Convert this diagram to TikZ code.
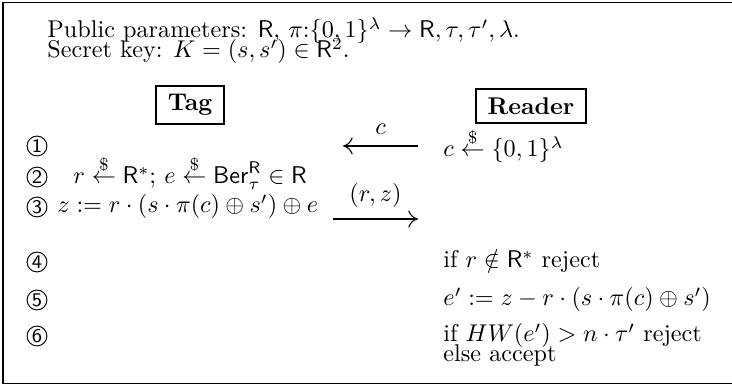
\documentclass[tikz,border=0pt]{standalone}
\usepackage{amsmath,amssymb}
\usetikzlibrary{arrows.meta}
\tikzset{
  txt/.style={anchor=base west, inner sep=0pt},
  num/.style={draw, circle, line width=0.4pt, minimum size=8.2pt, inner sep=0pt, font=\sffamily\footnotesize},
  rolebox/.style={draw, line width=0.8pt, inner xsep=4.8pt, inner ysep=3.6pt, font=\bfseries},
  msg/.style={line width=0.45pt, -{Computer Modern Rightarrow[length=4pt,width=7pt]}},
}
\begin{document}
\begin{tikzpicture}[x=0.4132pt, y=-0.4132pt]
\useasboundingbox (0,0) rectangle (732,385);
\draw[line width=0.55pt] (3,2.5) rectangle (740,383.5);
\node[txt] (pp) at (47,38) {Public parameters: $\mathsf{R}$, $\pi$:$\{0,1\}^\lambda \to \mathsf{R}, \tau, \tau', \lambda$.};
\node[txt] (sk) at (47,58) {Secret key: $K=(s,s')\in \mathsf{R}^2$.};
\node[rolebox] (tag) at (190,105) {Tag};
\node[rolebox] (rdr) at (531,106) {Reader};
% row numbers
\node[num] (n1) at (37,146) {1};
\node[num] (n2) at (37,177) {2};
\node[num] (n3) at (37,207) {3};
\node[num] (n4) at (37,262) {4};
\node[num] (n5) at (37,300) {5};
\node[num] (n6) at (37,336) {6};
% reader column
\node[txt] (r1) at (443,157) {$c \overset{\$}{\leftarrow} \{0,1\}^\lambda$};
\node[txt] (r4) at (443,268) {if $r \notin \mathsf{R}^*$ reject};
\node[txt] (r5) at (443,306) {$e' := z - r\cdot(s\cdot\pi(c)\oplus s')$};
\node[txt] (r6) at (443,342) {if $HW(e') > n\cdot\tau'$ reject};
\node[txt] (r7) at (443,362) {else accept};
% tag column
\node[txt] (t2) at (73,184) {$r \overset{\$}{\leftarrow} \mathsf{R}^*$; $e \overset{\$}{\leftarrow} \mathsf{Ber}_\tau^{\mathsf{R}} \in \mathsf{R}$};
\node[txt] (t3) at (57,213) {$z := r\cdot(s\cdot\pi(c)\oplus s')\oplus e$};
% messages
\coordinate (m1s) at (418,146);
\coordinate (m1e) at (343,146);
\coordinate (m2s) at (333,219);
\coordinate (m2e) at (418,219);
\draw[msg] (m1s) -- node[above=1pt] (lc) {$c$} (m1e);
\draw[msg] (m2s) -- node[above=1pt] (lrz) {$(r,z)$} (m2e);
\end{tikzpicture}
\end{document}
